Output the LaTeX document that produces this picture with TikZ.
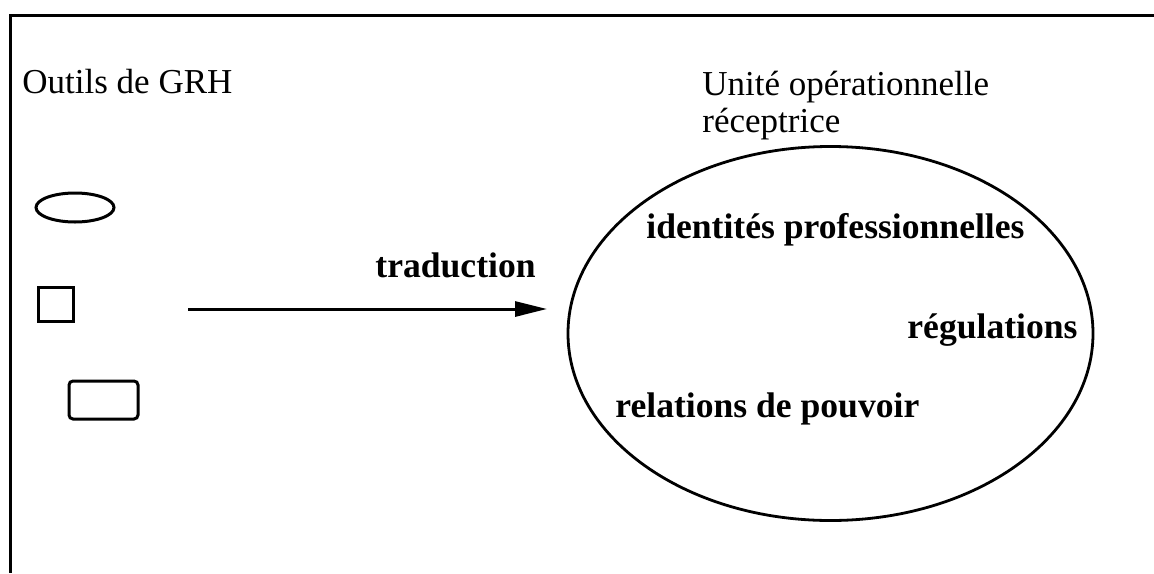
\documentclass[tikz,border=0pt]{standalone}
\usepackage{fontspec}
\setmainfont{Liberation Serif}
\usetikzlibrary{arrows.meta,shapes.geometric}
\tikzset{
  lbl/.style={inner sep=0pt, anchor=base west, font=\fontsize{17.5}{20}\selectfont},
  blbl/.style={inner sep=0pt, anchor=base west, font=\fontsize{17.8}{20}\selectfont\bfseries},
  shp/.style={draw, line width=1.5pt},
  frame/.style={line width=1.5pt},
}
\begin{document}
\begin{tikzpicture}[x=0.5pt,y=-0.5pt]
\useasboundingbox (0,0) rectangle (1154,573);
% frame
\coordinate (ftr) at (1154,15);
\coordinate (ftl) at (10,15);
\coordinate (fbl) at (10,573);
\draw[frame] (ftr) -- (ftl) -- (fbl);
% labels
\node[lbl] (outils) at (22,93) {Outils de GRH};
\node[lbl] (unite1) at (702,95) {Unité opérationnelle};
\node[lbl] (unite2) at (702,132) {réceptrice};
% tool shapes
\node[shp, ellipse, inner sep=0pt, minimum width=39pt, minimum height=14.5pt] (tEll) at (75,207.5) {};
\node[shp, rectangle, inner sep=0pt, minimum width=17.5pt, minimum height=17pt] (tSq) at (55.5,304) {};
\node[shp, rectangle, rounded corners=2pt, inner sep=0pt, minimum width=34.5pt, minimum height=19pt] (tRect) at (103.5,400) {};
% big ellipse
\node[draw, ellipse, line width=1.4pt, inner sep=0pt, minimum width=262.5pt, minimum height=187pt] (unit) at (830.5,333.5) {};
% arrow
\coordinate (aS) at (188,309);
\coordinate (aE) at (547,309);
\draw[line width=1.5pt, -{Triangle[length=16pt,width=7.5pt]}] (aS) -- (aE);
\node[blbl] (trad) at (375,277) {traduction};
% inner labels
\node[blbl] (ident) at (646,238) {identités professionnelles};
\node[blbl] (regul) at (907,338) {régulations};
\node[blbl] (relat) at (615,417) {relations de pouvoir};
\end{tikzpicture}
\end{document}
